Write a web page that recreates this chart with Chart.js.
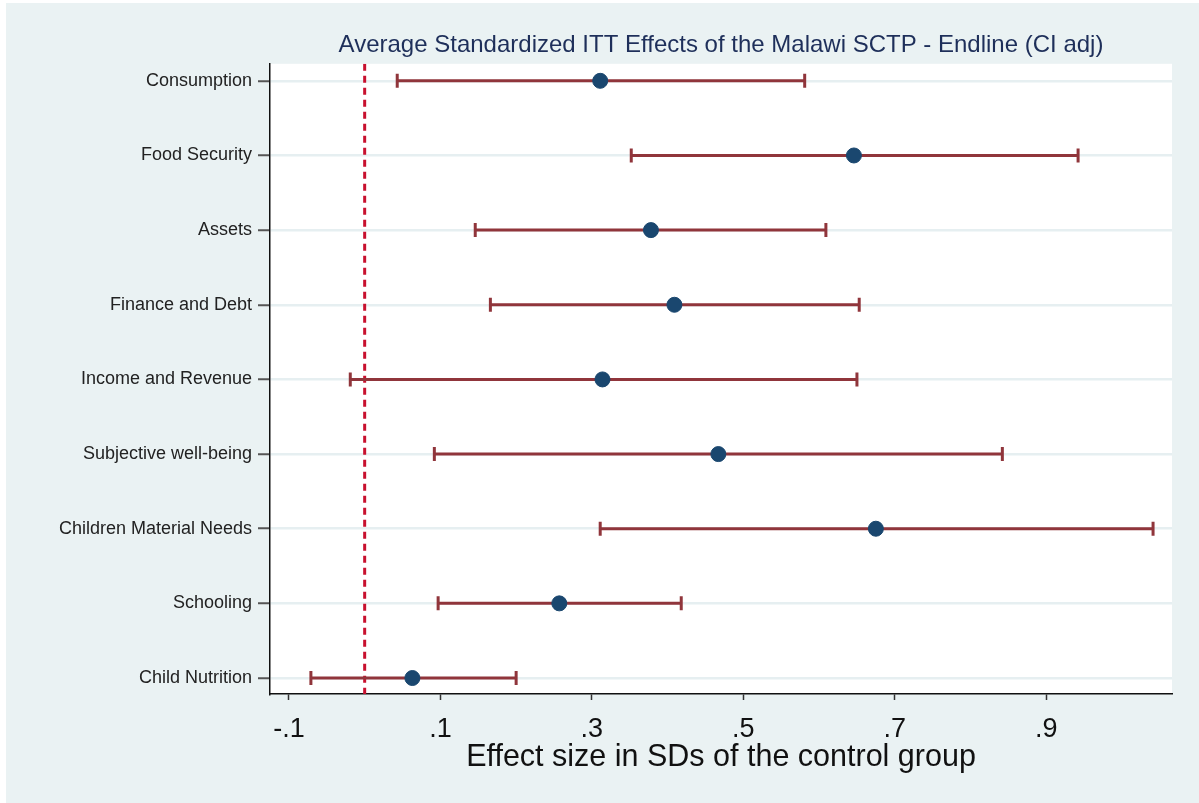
<!DOCTYPE html>
<html>
<head>
<meta charset="utf-8">
<script src="https://cdn.jsdelivr.net/npm/chart.js@4/dist/chart.umd.min.js"></script>
<style>
  html, body { margin: 0; padding: 0; background: #fff; }
  #wrap { position: absolute; left: 6px; top: 3px; width: 1193px; height: 800px; background: #eaf2f3; }
</style>
</head>
<body>
<div id="wrap"><canvas id="c"></canvas></div>
<script>
const categories = ['Consumption', 'Food Security', 'Assets', 'Finance and Debt', 'Income and Revenue',
    'Subjective well-being', 'Children Material Needs', 'Schooling', 'Child Nutrition'];
const effects = [0.311, 0.646, 0.378, 0.409, 0.314, 0.467, 0.675, 0.257, 0.063];
const ciLow = [0.043, 0.352, 0.146, 0.166, -0.019, 0.092, 0.311, 0.097, -0.071];
const ciHigh = [0.581, 0.942, 0.609, 0.653, 0.650, 0.842, 1.041, 0.418, 0.200];
const xTicks = [-0.1, 0.1, 0.3, 0.5, 0.7, 0.9];

const NAVY = '#1a476f';
const CI_RED = '#90353b';
const ZERO_RED = '#c8102e';
const Y_MIN = 0.772, Y_MAX = 9.214;
const FONT = 'Liberation Sans, Arial';

const fmt = (v) => {
    const s = (Math.round(v * 10) / 10).toString();
    return s.replace('0.', '.');
};

// CI segments: pairs of points separated by gaps
const ciData = [];
categories.forEach((_c, i) => {
    ciData.push({ x: ciLow[i], y: i + 1 }, { x: ciHigh[i], y: i + 1 }, { x: null, y: null });
});

// white plot region
const plotBg = {
    id: 'plotBg',
    beforeDraw: (chart) => {
        const { ctx, chartArea: a } = chart;
        ctx.save();
        ctx.fillStyle = '#fff';
        ctx.fillRect(a.left, a.top, a.right - a.left, a.bottom - a.top);
        ctx.restore();
    }
};

new Chart(document.getElementById('c'), {
    type: 'scatter',
    plugins: [plotBg],
    data: {
        datasets: [
            {
                type: 'line',
                data: [{ x: 0, y: Y_MIN }, { x: 0, y: Y_MAX }],
                borderColor: ZERO_RED,
                borderWidth: 3,
                borderDash: [7, 5],
                pointRadius: 0,
                order: 3
            },
            {
                type: 'line',
                data: ciData,
                showLine: true,
                spanGaps: false,
                borderColor: CI_RED,
                borderWidth: 3,
                pointStyle: 'line',
                rotation: 90,
                pointRadius: 7,
                pointBorderWidth: 3,
                pointBorderColor: CI_RED,
                order: 2
            },
            {
                data: effects.map((v, i) => ({ x: v, y: i + 1 })),
                backgroundColor: NAVY,
                borderColor: NAVY,
                pointRadius: 7.5,
                order: 1
            }
        ]
    },
    options: {
        responsive: true,
        maintainAspectRatio: false,
        animation: false,
        layout: { padding: { left: 0, right: 27, top: 0, bottom: 0 } },
        plugins: {
            legend: { display: false },
            tooltip: { enabled: false },
            title: {
                display: true,
                fullSize: false,
                text: 'Average Standardized ITT Effects of the Malawi SCTP - Endline (CI adj)',
                color: '#1e2f5a',
                font: { family: FONT, size: 24, weight: 'normal' },
                padding: { top: 28, bottom: 4 }
            }
        },
        scales: {
            x: {
                type: 'linear',
                min: -0.125,
                max: 1.066,
                afterBuildTicks: (s) => { s.ticks = xTicks.map(v => ({ value: v })); },
                afterFit: (s) => { s.height = 109; },
                ticks: {
                    callback: (v) => fmt(v),
                    color: '#111',
                    font: { family: FONT, size: 27 },
                    padding: 13,
                    maxRotation: 0
                },
                grid: { drawOnChartArea: false, tickLength: 6, tickColor: '#333', tickWidth: 1.5 },
                border: { color: '#111', width: 1.5 },
                title: {
                    display: true,
                    text: 'Effect size in SDs of the control group',
                    color: '#111',
                    font: { family: FONT, size: 30.5 },
                    padding: { top: 0, bottom: 27 }
                }
            },
            y: {
                type: 'linear',
                reverse: true,
                min: Y_MIN,
                max: Y_MAX,
                afterBuildTicks: (s) => { s.ticks = categories.map((_c, i) => ({ value: i + 1 })); },
                afterFit: (s) => { s.width = 264; },
                ticks: {
                    callback: (v) => categories[v - 1],
                    color: '#222',
                    font: { family: FONT, size: 18 },
                    padding: 6
                },
                grid: { color: '#e6eff1', lineWidth: 2.5, tickLength: 12, tickColor: '#555', tickWidth: 2 },
                border: { color: '#111', width: 1.5 }
            }
        }
    }
});
</script>
</body>
</html>
